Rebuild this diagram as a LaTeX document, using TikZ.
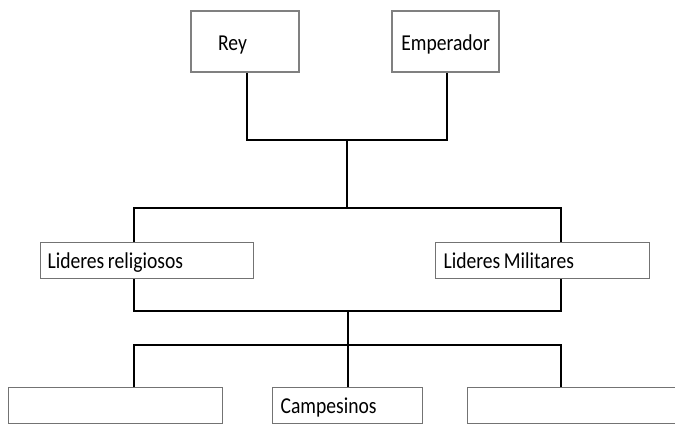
\documentclass[tikz,border=0pt]{standalone}
\usepackage{fontspec}
\setmainfont{Carlito}
\newcommand{\stretchtxt}[1]{\scalebox{1}[1.16]{\spaceskip=3.6pt\relax #1}}
\begin{document}
\begin{tikzpicture}[x=1pt,y=-1pt,
  txt/.style={font=\fontsize{19.6}{22}\selectfont},
  topbox/.style={txt, draw=black!50, line width=2.2pt, anchor=north west, inner ysep=0pt, minimum height=61pt, text height=21pt, text depth=4pt},
  lowbox/.style={txt, draw=black!55, line width=1.2pt, anchor=north west, inner ysep=0pt, minimum height=36pt, align=left, text height=20pt, text depth=4pt},
  link/.style={draw=black, line width=2.6pt}]
\useasboundingbox (0,0) rectangle (675,424);
% top boxes
\node[topbox, align=left, inner xsep=27pt, text width=54pt] (rey) at (190,10) {\stretchtxt{Rey}};
\node[topbox, align=center, inner xsep=4pt, text width=99pt] (emp) at (391,10) {\stretchtxt{Emperador}};
% middle boxes
\node[lowbox, inner xsep=7pt, text width=199pt] (rel) at (40,242) {\stretchtxt{Lideres religiosos}};
\node[lowbox, inner xsep=8pt, text width=198pt] (mil) at (435,242) {\stretchtxt{Lideres Militares}};
% bottom boxes
\node[lowbox, inner xsep=7pt, text width=200pt] (b1) at (8,387) {};
\node[lowbox, inner xsep=8pt, text width=134pt] (camp) at (272,387) {\stretchtxt{Campesinos}};
\node[lowbox, inner xsep=7pt, text width=210pt] (b3) at (467,387) {};
% junction coordinates
\coordinate (j1) at (347,140);
\coordinate (j2) at (347,208);
\coordinate (l2) at (134,208);
\coordinate (r2) at (561,208);
\coordinate (l3) at (134,311);
\coordinate (r3) at (561,311);
\coordinate (j3) at (348,311);
\coordinate (j4) at (348,345);
\coordinate (l4) at (134,345);
\coordinate (r4) at (561,345);
\coordinate (ry) at (247,0);
\coordinate (em) at (447,0);
\begin{scope}[line join=miter]
\draw[link] (rey.south -| ry) |- (j1) -| (emp.south -| em);
\draw[link] (j1) -- (j2);
\draw[link] (rel.north -| l2) |- (j2) -| (mil.north -| r2);
\draw[link] (rel.south -| l3) |- (j3) -| (mil.south -| r3);
\draw[link] (j3) -- (j4);
\draw[link] (b1.north -| l4) |- (j4) -| (b3.north -| r4);
\draw[link] (j4) -- (camp.north -| j4);
\end{scope}
\end{tikzpicture}
\end{document}
